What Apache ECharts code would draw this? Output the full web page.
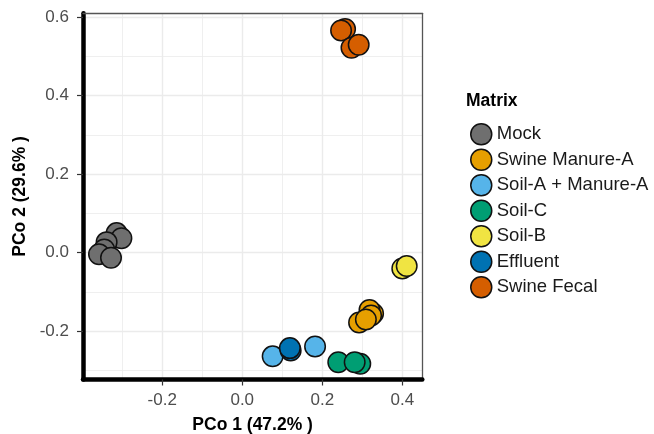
<!DOCTYPE html>
<html>
<head>
<meta charset="utf-8">
<script src="https://cdn.jsdelivr.net/npm/echarts@6/dist/echarts.min.js"></script>
<style>
html,body{margin:0;padding:0;background:#fff;}
#chart{width:654px;height:434px;}
</style>
</head>
<body>
<div id="chart"></div>
<script>
// ---- data ----
const seriesNames = ['Mock', 'Swine Manure-A', 'Soil-A + Manure-A', 'Soil-C', 'Soil-B', 'Effluent', 'Swine Fecal'];
const mockPts = [[-0.314, 0.050], [-0.302, 0.037], [-0.339, 0.027], [-0.345, 0.008], [-0.358, -0.004], [-0.328, -0.013]];
const swineManurePts = [[0.327, -0.155], [0.318, -0.146], [0.322, -0.160], [0.292, -0.178], [0.309, -0.170]];
const soilAManurePts = [[0.076, -0.264], [0.182, -0.239]];
const soilCPts = [[0.240, -0.279], [0.295, -0.283], [0.281, -0.279]];
const soilBPts = [[0.400, -0.040], [0.411, -0.034]];
const effluentPts = [[0.121, -0.249], [0.119, -0.243]];
const swineFecalPts = [[0.257, 0.570], [0.247, 0.566], [0.273, 0.522], [0.291, 0.530]];
const xTickLabels = [-0.2, 0.0, 0.2, 0.4];
const xMinorGrid = [-0.3, -0.1, 0.1, 0.3];
const yTickLabels = [-0.2, 0.0, 0.2, 0.4, 0.6];
const yMinorGrid = [-0.3, -0.1, 0.1, 0.3, 0.5];

const seriesData = [mockPts, swineManurePts, soilAManurePts, soilCPts, soilBPts, effluentPts, swineFecalPts];
const colors = ['#6f6f6f', '#E69F00', '#56B4E9', '#009E73', '#F0E442', '#0072B2', '#D55E00'];

const chart = echarts.init(document.getElementById('chart'), null, {renderer: 'canvas'});
const FONT = 'Liberation Sans, Arial, sans-serif';
const gridColor = '#ebebeb';

const option = {
  animation: false,
  backgroundColor: '#ffffff',
  title: {
    text: 'Matrix', left: 466, top: 92, padding: 0,
    textStyle: {fontFamily: FONT, fontSize: 17.5, fontWeight: 'bold', color: '#000'}
  },
  legend: {
    orient: 'vertical', left: 465, top: 118, padding: 5,
    itemWidth: 21, itemHeight: 21, itemGap: 3,
    icon: 'circle',
    data: seriesNames,
    itemStyle: {borderColor: '#111', borderWidth: 1.5},
    textStyle: {fontFamily: FONT, fontSize: 18.5, lineHeight: 21, color: '#1a1a1a'}
  },
  grid: {left: 83, right: 231.7, top: 13.3, bottom: 54.5, containLabel: false, outerBoundsMode: 'none'},
  xAxis: [{
    type: 'value', min: -0.398, max: 0.45, position: 'bottom',
    name: 'PCo 1 (47.2% )', nameLocation: 'middle', nameGap: 37,
    nameTextStyle: {fontFamily: FONT, fontSize: 17.5, fontWeight: 'bold', color: '#000'},
    axisLine: {onZero: false, lineStyle: {color: '#000', width: 4.5}},
    axisTick: {show: true, customValues: xTickLabels, length: 6, lineStyle: {color: '#333', width: 1.2}},
    axisLabel: {customValues: xTickLabels, margin: 12, fontFamily: FONT, fontSize: 17, color: '#4d4d4d',
      formatter: v => v.toFixed(1)},
    splitLine: {show: true, lineStyle: {color: gridColor, width: 1.4}}
  }, {
    type: 'value', min: -0.398, max: 0.45, position: 'top',
    axisLine: {onZero: false, lineStyle: {color: '#555', width: 1.3}},
    axisTick: {show: false, customValues: xMinorGrid},
    axisLabel: {show: false, customValues: xMinorGrid},
    splitLine: {show: true, lineStyle: {color: gridColor, width: 0.8}}
  }],
  yAxis: [{
    type: 'value', min: -0.323, max: 0.61, position: 'left',
    name: 'PCo 2 (29.6% )', nameLocation: 'middle', nameGap: 52,
    nameTextStyle: {fontFamily: FONT, fontSize: 17.5, fontWeight: 'bold', color: '#000'},
    axisLine: {onZero: false, lineStyle: {color: '#000', width: 4.5}},
    axisTick: {show: true, customValues: yTickLabels, length: 6, lineStyle: {color: '#333', width: 1.2}},
    axisLabel: {customValues: yTickLabels, margin: 14, fontFamily: FONT, fontSize: 17, color: '#4d4d4d',
      formatter: v => v.toFixed(1)},
    splitLine: {show: true, lineStyle: {color: gridColor, width: 1.4}}
  }, {
    type: 'value', min: -0.323, max: 0.61, position: 'right',
    axisLine: {onZero: false, lineStyle: {color: '#555', width: 1.3}},
    axisTick: {show: false, customValues: yMinorGrid},
    axisLabel: {show: false, customValues: yMinorGrid},
    splitLine: {show: true, lineStyle: {color: gridColor, width: 0.8}}
  }],
  series: seriesNames.map((name, i) => ({
    name: name,
    type: 'scatter',
    xAxisIndex: 0, yAxisIndex: 0,
    symbol: 'circle',
    symbolSize: 20.5,
    data: seriesData[i],
    itemStyle: {color: colors[i], borderColor: '#111', borderWidth: 1.5, opacity: 1},
    emphasis: {disabled: true},
    z: 3
  }))
};
chart.setOption(option);
</script>
</body>
</html>
